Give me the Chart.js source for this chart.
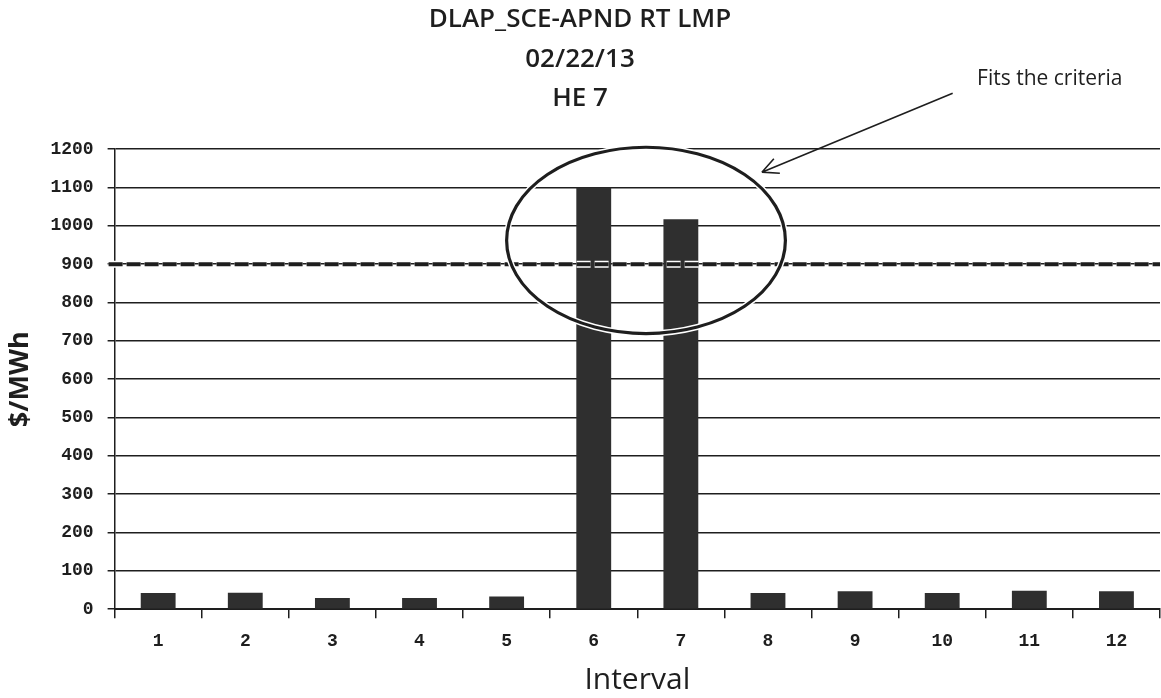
<!DOCTYPE html>
<html>
<head>
<meta charset="utf-8">
<script src="https://cdn.jsdelivr.net/npm/chart.js@4.4.1/dist/chart.umd.min.js"></script>
<style>
  html, body { margin: 0; padding: 0; background: #ffffff; }
  #wrap { width: 1161px; height: 698px; }
</style>
</head>
<body>
<div id="wrap"><canvas id="lmpChart" width="1161" height="698"></canvas></div>
<script>
// Chart data
const intervals = ['1', '2', '3', '4', '5', '6', '7', '8', '9', '10', '11', '12'];
const lmpValues = [42, 43, 29, 29, 33, 1100, 1017, 42, 47, 42, 48, 47];
const yTicks = [0, 100, 200, 300, 400, 500, 600, 700, 800, 900, 1000, 1100, 1200];
const titleLines = ['DLAP_SCE-APND RT LMP', '02/22/13', 'HE 7'];
const threshold = 900;
const noteText = 'Fits the criteria';

// To place the hand-drawn annotation (in category / value units)
const ellipseCenter = { pos: 5.6, value: 962 };
const ellipseRadius = { cats: 1.6, value: 243 };
const arrowTail = { pos: 9.12, value: 1346 };
const arrowTip = { pos: 6.93, value: 1140 };
const notePos = { pos: 9.4, value: 1382 };

const ink = '#1e1e1e';

// To convert a fractional category position into a pixel
function xAt(chart, pos) {
    const xs = chart.scales.x;
    const cw = (xs.right - xs.left) / intervals.length;
    return xs.left + (pos + 0.5) * cw;
}

// To draw the 900 line, the ellipse and the arrow
const annotationPlugin = {
    id: 'annotations',
    afterDatasetsDraw(chart) {
        const ctx = chart.ctx;
        const ys = chart.scales.y;
        const area = chart.chartArea;
        const cw = (area.right - area.left) / intervals.length;

        // dashed criteria line
        const ty = ys.getPixelForValue(threshold);
        ctx.save();
        ctx.setLineDash([14, 4]);
        ctx.lineCap = 'butt';
        ctx.strokeStyle = '#ffffff';
        ctx.lineWidth = 7;
        ctx.beginPath();
        ctx.moveTo(area.left - 6, ty);
        ctx.lineTo(area.right, ty);
        ctx.stroke();
        ctx.strokeStyle = ink;
        ctx.lineWidth = 4;
        ctx.stroke();
        ctx.restore();

        // ellipse around the two spikes
        const cx = xAt(chart, ellipseCenter.pos);
        const cy = ys.getPixelForValue(ellipseCenter.value);
        const rx = ellipseRadius.cats * cw;
        const ry = cy - ys.getPixelForValue(ellipseCenter.value + ellipseRadius.value);
        ctx.save();
        ctx.beginPath();
        ctx.ellipse(cx, cy, rx, ry, 0, 0, Math.PI * 2);
        ctx.strokeStyle = '#ffffff';
        ctx.lineWidth = 6;
        ctx.stroke();
        ctx.strokeStyle = ink;
        ctx.lineWidth = 3.2;
        ctx.stroke();
        ctx.restore();

        // arrow
        const x1 = xAt(chart, arrowTail.pos), y1 = ys.getPixelForValue(arrowTail.value);
        const x2 = xAt(chart, arrowTip.pos), y2 = ys.getPixelForValue(arrowTip.value);
        const ang = Math.atan2(y2 - y1, x2 - x1);
        ctx.save();
        ctx.strokeStyle = ink;
        ctx.lineWidth = 1.6;
        ctx.beginPath();
        ctx.moveTo(x1, y1);
        ctx.lineTo(x2, y2);
        ctx.moveTo(x2, y2);
        ctx.lineTo(x2 - 18 * Math.cos(ang - 0.45), y2 - 18 * Math.sin(ang - 0.45));
        ctx.moveTo(x2, y2);
        ctx.lineTo(x2 - 18 * Math.cos(ang + 0.45), y2 - 18 * Math.sin(ang + 0.45));
        ctx.stroke();

        // note text
        ctx.fillStyle = ink;
        ctx.font = '21px "Open Sans", sans-serif';
        ctx.textAlign = 'left';
        ctx.textBaseline = 'middle';
        ctx.fillText(noteText, xAt(chart, notePos.pos), ys.getPixelForValue(notePos.value));
        ctx.restore();
    }
};

const ctx = document.getElementById('lmpChart').getContext('2d');
const chart = new Chart(ctx, {
    type: 'bar',
    data: {
        labels: intervals,
        datasets: [{
            label: 'RT LMP',
            data: lmpValues,
            backgroundColor: '#2f2f2f',
            borderWidth: 0,
            categoryPercentage: 1.0,
            barPercentage: 0.4
        }]
    },
    options: {
        responsive: false,
        animation: false,
        layout: { padding: { left: 0, right: 1, top: 0, bottom: 2 } },
        plugins: {
            legend: { display: false },
            tooltip: { enabled: false },
            title: {
                display: true,
                text: titleLines,
                color: ink,
                font: { family: '"Open Sans", sans-serif', size: 26, weight: '600', lineHeight: 1.52 },
                padding: { top: 0, bottom: 30.6 }
            }
        },
        scales: {
            x: {
                grid: {
                    display: true,
                    drawOnChartArea: false,
                    drawTicks: true,
                    tickLength: 9,
                    color: ink,
                    lineWidth: 1.5
                },
                border: { display: true, color: ink, width: 2 },
                ticks: {
                    color: ink,
                    padding: 12,
                    font: { family: '"Liberation Mono", monospace', size: 18, weight: 'bold' }
                },
                title: {
                    display: true,
                    text: 'Interval',
                    color: ink,
                    font: { family: '"Open Sans", sans-serif', size: 30, lineHeight: 1.04 },
                    padding: { top: 1, bottom: 0 }
                }
            },
            y: {
                min: 0,
                max: 1200,
                afterBuildTicks(scale) {
                    scale.ticks = yTicks.map(v => ({ value: v }));
                },
                grid: {
                    color: ink,
                    lineWidth: 1.5,
                    drawTicks: true,
                    tickLength: 7
                },
                border: { display: true, color: ink, width: 1.5 },
                ticks: {
                    color: ink,
                    padding: 14,
                    callback: value => String(value),
                    font: { family: '"Liberation Mono", monospace', size: 18, weight: 'bold' }
                },
                title: {
                    display: true,
                    text: '$/MWh',
                    color: ink,
                    font: { family: '"Open Sans", sans-serif', size: 27, weight: 'bold', lineHeight: 1.2 },
                    padding: { top: 4, bottom: 0 }
                }
            }
        }
    },
    plugins: [annotationPlugin]
});
</script>
</body>
</html>
